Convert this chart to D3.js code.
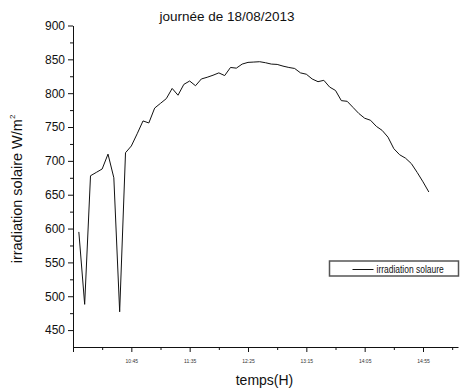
<!DOCTYPE html>
<html>
<head>
<meta charset="utf-8">
<script src="https://cdn.jsdelivr.net/npm/d3@7"></script>
<style>
  body { margin: 0; background: #fff; }
  svg { display: block; font-family: "Liberation Sans", Arial, sans-serif; }
</style>
</head>
<body>
<div class="chart"></div>
<script>
//data, one reading every 5 minutes
let times = ["10:00","10:05","10:10","10:15","10:20","10:25","10:30","10:35","10:40","10:45",
  "10:50","10:55","11:00","11:05","11:10","11:15","11:20","11:25","11:30","11:35",
  "11:40","11:45","11:50","11:55","12:00","12:05","12:10","12:15","12:20","12:25",
  "12:30","12:35","12:40","12:45","12:50","12:55","13:00","13:05","13:10","13:15",
  "13:20","13:25","13:30","13:35","13:40","13:45","13:50","13:55","14:00","14:05",
  "14:10","14:15","14:20","14:25","14:30","14:35","14:40","14:45","14:50","14:55","15:00"];

let irradiation = [595, 488, 678, 683, 688, 710, 675, 477, 712, 722,
  740, 759, 756, 778, 785, 792, 807, 797, 813, 818,
  811, 821, 823.5, 826.5, 830, 826, 838, 837, 843, 845.5,
  846, 846.5, 845, 843, 842.5, 840, 838, 836.5, 830, 828,
  821, 817, 819, 809, 804, 789, 788, 779, 770, 763,
  760, 751, 745, 735, 718, 709, 704, 696, 683, 669, 654];

let xMajorTicks = ["9:55","10:45","11:35","12:25","13:15","14:05","14:55"];
let xTickLabels = ["","10:45","11:35","12:25","13:15","14:05","14:55"];
let xMinorTicks = ["10:20","11:10","12:00","12:50","13:40","14:30","15:20"];
let xRange = ["9:55","15:25"];

let yMajorTicks = [450, 500, 550, 600, 650, 700, 750, 800, 850, 900];
let yMinorTicks = [475, 525, 575, 625, 675, 725, 775, 825, 875];
let yRange = [425, 900];

let chart = {};

function toMin(s) {
  let p = s.split(":");
  return +p[0] * 60 + +p[1];
}

chart.width = 460;
chart.height = 391;
chart.margin = { top: 25.5, right: 2, bottom: 44, left: 73 };

chart.svg = d3.select(".chart").append("svg")
  .attr("width", chart.width)
  .attr("height", chart.height);

chart.x = d3.scaleLinear()
  .domain(xRange.map(toMin))
  .range([chart.margin.left, chart.width - chart.margin.right]);

chart.y = d3.scaleLinear()
  .domain(yRange)
  .range([chart.height - chart.margin.bottom, chart.margin.top]);

//y axis, major ticks with labels
chart.svg.append("g")
  .attr("transform", `translate(${chart.margin.left},0)`)
  .call(d3.axisLeft(chart.y).tickValues(yMajorTicks).tickSize(5).tickPadding(3).tickSizeOuter(0))
  .call(g => g.selectAll("text").attr("font-size", 12).attr("fill", "#111").attr("font-family", "Liberation Sans, Arial"))
  .call(g => g.selectAll("line,path").attr("stroke", "#111"));

//y minor ticks
chart.svg.append("g")
  .attr("transform", `translate(${chart.margin.left},0)`)
  .call(d3.axisLeft(chart.y).tickValues(yMinorTicks).tickSize(3).tickFormat("").tickSizeOuter(0))
  .call(g => g.select("path").remove())
  .call(g => g.selectAll("line").attr("stroke", "#111"));

//x axis
let xAxisY = chart.height - chart.margin.bottom;
chart.svg.append("g")
  .attr("transform", `translate(0,${xAxisY})`)
  .call(d3.axisBottom(chart.x).tickValues(xMajorTicks.map(toMin)).tickSize(5).tickPadding(7)
    .tickFormat((d, i) => xTickLabels[i]).tickSizeOuter(0))
  .call(g => g.selectAll("text").attr("font-size", 5).attr("fill", "#333").attr("font-family", "Liberation Sans, Arial"))
  .call(g => g.selectAll("line,path").attr("stroke", "#111"));

chart.svg.append("g")
  .attr("transform", `translate(0,${xAxisY})`)
  .call(d3.axisBottom(chart.x).tickValues(xMinorTicks.map(toMin)).tickSize(3).tickFormat("").tickSizeOuter(0))
  .call(g => g.select("path").remove())
  .call(g => g.selectAll("line").attr("stroke", "#111"));

//the series
let line = d3.line()
  .x((d, i) => chart.x(toMin(times[i])))
  .y(d => chart.y(d));

chart.svg.append("path")
  .datum(irradiation)
  .attr("d", line)
  .attr("fill", "none")
  .attr("stroke", "#111")
  .attr("stroke-width", 1);

//titles
chart.svg.append("text")
  .attr("x", 227).attr("y", 21)
  .attr("text-anchor", "middle")
  .attr("font-size", 13.5)
  .attr("fill", "#111")
  .text("journée de 18/08/2013");

chart.svg.append("text")
  .attr("x", 264.5).attr("y", 385)
  .attr("text-anchor", "middle")
  .attr("font-size", 14)
  .attr("fill", "#111")
  .text("temps(H)");

let yt = chart.svg.append("text")
  .attr("transform", "translate(22,189) rotate(-90)")
  .attr("text-anchor", "middle")
  .attr("font-size", 14.5)
  .attr("fill", "#111");
yt.append("tspan").text("irradiation solaire W/m");
yt.append("tspan").attr("font-size", 8).attr("dy", -7).text("2");

//legend
let lg = chart.svg.append("g");
lg.append("rect")
  .attr("x", 329.5).attr("y", 261)
  .attr("width", 129).attr("height", 15)
  .attr("fill", "#fff")
  .attr("stroke", "#555")
  .attr("stroke-width", 1.5);
lg.append("line")
  .attr("x1", 352.5).attr("x2", 373.5)
  .attr("y1", 269.5).attr("y2", 269.5)
  .attr("stroke", "#111");
//the label is drawn narrow, squeezed sideways like in the source
lg.append("text")
  .attr("transform", "translate(376.5,273) scale(0.77,1)")
  .attr("font-size", 11)
  .attr("fill", "#111")
  .text("irradiation solaure");
</script>
</body>
</html>
